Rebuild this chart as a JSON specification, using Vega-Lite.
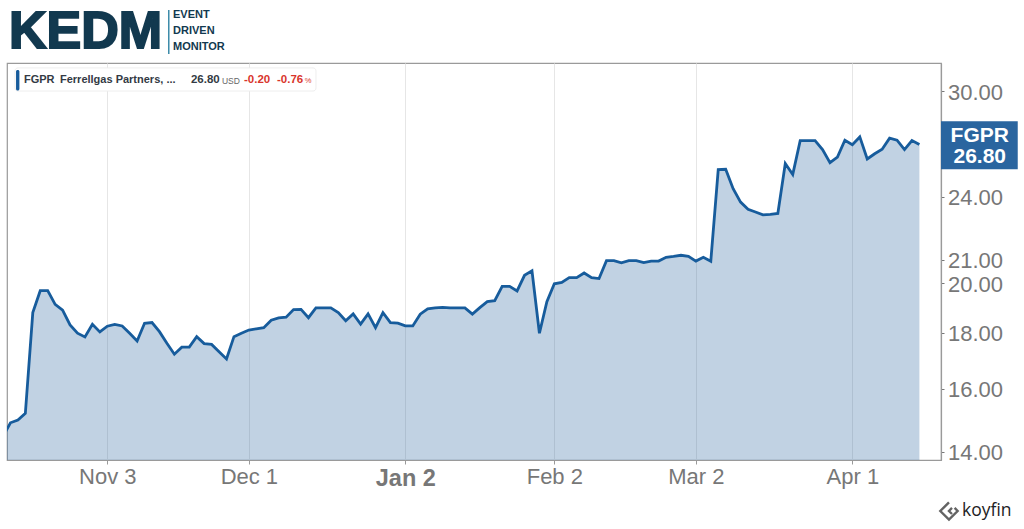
{
"$schema":"https://vega.github.io/schema/vega-lite/v6.json",
"width":934,"height":397,"autosize":"none",
"padding":{"left":7,"top":63,"right":83,"bottom":69},
"background":"white",
"config":{"view":{"stroke":"#9a9a9a","strokeWidth":1.2},"font":"Liberation Sans"},
"datasets":{
"prices":[
{"session":0,"price":14.47},{"session":1,"price":14.89},{"session":2,"price":14.98},{"session":3,"price":15.19},{"session":4,"price":18.79},{"session":5,"price":19.68},{"session":6,"price":19.68},{"session":7,"price":19.12},{"session":8,"price":18.89},{"session":9,"price":18.31},{"session":10,"price":17.99},{"session":11,"price":17.85},{"session":12,"price":18.33},{"session":13,"price":18.04},{"session":14,"price":18.26},{"session":15,"price":18.33},{"session":16,"price":18.27},{"session":17,"price":17.99},{"session":18,"price":17.70},{"session":19,"price":18.37},{"session":20,"price":18.40},{"session":21,"price":18.05},{"session":22,"price":17.61},{"session":23,"price":17.21},{"session":24,"price":17.47},{"session":25,"price":17.47},{"session":26,"price":17.86},{"session":27,"price":17.60},{"session":28,"price":17.57},{"session":29,"price":17.30},{"session":30,"price":17.04},{"session":31,"price":17.86},{"session":32,"price":17.99},{"session":33,"price":18.11},{"session":34,"price":18.16},{"session":35,"price":18.20},{"session":36,"price":18.49},{"session":37,"price":18.58},{"session":38,"price":18.61},{"session":39,"price":18.91},{"session":40,"price":18.92},{"session":41,"price":18.59},{"session":42,"price":18.98},{"session":43,"price":18.98},{"session":44,"price":18.98},{"session":45,"price":18.79},{"session":46,"price":18.47},{"session":47,"price":18.74},{"session":48,"price":18.34},{"session":49,"price":18.74},{"session":50,"price":18.20},{"session":51,"price":18.79},{"session":52,"price":18.40},{"session":53,"price":18.38},{"session":54,"price":18.27},{"session":55,"price":18.27},{"session":56,"price":18.73},{"session":57,"price":18.94},{"session":58,"price":18.98},{"session":59,"price":19.00},{"session":60,"price":18.98},{"session":61,"price":18.98},{"session":62,"price":18.98},{"session":63,"price":18.73},{"session":64,"price":18.99},{"session":65,"price":19.23},{"session":66,"price":19.27},{"session":67,"price":19.86},{"session":68,"price":19.86},{"session":69,"price":19.67},{"session":70,"price":20.33},{"session":71,"price":20.52},{"session":72,"price":17.99},{"session":73,"price":19.23},{"session":74,"price":19.97},{"session":75,"price":20.03},{"session":76,"price":20.23},{"session":77,"price":20.23},{"session":78,"price":20.43},{"session":79,"price":20.23},{"session":80,"price":20.19},{"session":81,"price":20.97},{"session":82,"price":20.97},{"session":83,"price":20.87},{"session":84,"price":20.97},{"session":85,"price":20.97},{"session":86,"price":20.88},{"session":87,"price":20.95},{"session":88,"price":20.95},{"session":89,"price":21.12},{"session":90,"price":21.16},{"session":91,"price":21.21},{"session":92,"price":21.16},{"session":93,"price":20.95},{"session":94,"price":21.12},{"session":95,"price":20.94},{"session":96,"price":25.41},{"session":97,"price":25.43},{"session":98,"price":24.41},{"session":99,"price":23.73},{"session":100,"price":23.37},{"session":101,"price":23.24},{"session":102,"price":23.10},{"session":103,"price":23.12},{"session":104,"price":23.17},{"session":105,"price":25.74},{"session":106,"price":25.15},{"session":107,"price":27.02},{"session":108,"price":27.02},{"session":109,"price":27.02},{"session":110,"price":26.51},{"session":111,"price":25.79},{"session":112,"price":26.10},{"session":113,"price":27.04},{"session":114,"price":26.79},{"session":115,"price":27.23},{"session":116,"price":25.99},{"session":117,"price":26.28},{"session":118,"price":26.53},{"session":119,"price":27.16},{"session":120,"price":27.04},{"session":121,"price":26.51},{"session":122,"price":27.02},{"session":123,"price":26.80}
]},
"layer":[
{"data":{"name":"prices"},
 "mark":{"type":"area","clip":true,"color":"#2a659f","opacity":0.29,"line":false},
 "encoding":{
  "x":{"field":"session","type":"quantitative","title":null,
   "scale":{"domain":[0.537,125.9],"nice":false,"zero":false},
   "axis":{"values":[14,33,54,74,93,114],"grid":true,"gridColor":"#e6e6e6","gridWidth":1,"domainColor":"#9a9a9a","domainWidth":1.2,"tickColor":"#9a9a9a","tickSize":4,"labelFontSize":{"condition":{"test":"datum.value==54","value":23.5},"value":22},"labelColor":"#777777","labelPadding":2,"labelFont":"Liberation Sans","title":null,
    "labelExpr":"datum.value==14?'Nov 3':datum.value==33?'Dec 1':datum.value==54?'Jan 2':datum.value==74?'Feb 2':datum.value==93?'Mar 2':'Apr 1'",
    "labelFontWeight":{"condition":{"test":"datum.value==54","value":"bold"},"value":"normal"}}},
  "y":{"field":"price","type":"quantitative","title":null,
   "scale":{"type":"log","domain":[13.765,31.83],"nice":false},
   "axis":{"orient":"right","values":[14,16,18,20,21,24,30],"format":".2f","grid":false,"domainColor":"#9a9a9a","domainWidth":1.2,"tickColor":"#777777","tickSize":3,"labelFontSize":22,"labelColor":"#777777","labelPadding":3.5,"labelOffset":1,"title":null}},
  "y2":{"datum":13.765}}},
{"data":{"name":"prices"},
 "mark":{"type":"line","clip":true,"color":"#175c9c","strokeWidth":2.8,"strokeJoin":"miter"},
 "encoding":{"x":{"field":"session","type":"quantitative"},"y":{"field":"price","type":"quantitative"}}},
{"data":{"values":[{"session":1.61,"session2":42.01,"price":31.5,"price2":30.0}]},
 "mark":{"type":"rect","fill":"white","stroke":"#eeeeee","strokeWidth":1,"cornerRadius":3},
 "encoding":{"x":{"field":"session","type":"quantitative"},"x2":{"field":"session2"},"y":{"field":"price","type":"quantitative"},"y2":{"field":"price2"}}},
{"data":{"values":[{"session":1.75,"session2":2.2,"price":31.37,"price2":30.03}]},
 "mark":{"type":"rect","fill":"#175c9c","cornerRadius":1.5},
 "encoding":{"x":{"field":"session","type":"quantitative"},"x2":{"field":"session2"},"y":{"field":"price","type":"quantitative"},"y2":{"field":"price2"}}},
{"data":{"values":[{"session":2.82,"price":30.7,"label":"FGPR"},{"session":7.65,"price":30.7,"label":"Ferrellgas Partners, ..."}]},
 "mark":{"type":"text","align":"left","baseline":"middle","fontSize":11,"fontWeight":"bold","color":"#333a44"},
 "encoding":{"x":{"field":"session","type":"quantitative"},"y":{"field":"price","type":"quantitative"},"text":{"field":"label"}}},
{"data":{"values":[{"session":25.23,"price":30.7,"label":"26.80"}]},
 "mark":{"type":"text","align":"left","baseline":"middle","fontSize":11.5,"fontWeight":"bold","color":"#333a44"},
 "encoding":{"x":{"field":"session","type":"quantitative"},"y":{"field":"price","type":"quantitative"},"text":{"field":"label"}}},
{"data":{"values":[{"session":29.39,"price":30.66,"label":"USD"}]},
 "mark":{"type":"text","align":"left","baseline":"middle","fontSize":8.5,"color":"#666666"},
 "encoding":{"x":{"field":"session","type":"quantitative"},"y":{"field":"price","type":"quantitative"},"text":{"field":"label"}}},
{"data":{"values":[{"session":32.35,"price":30.7,"label":"-0.20"},{"session":36.78,"price":30.7,"label":"-0.76"}]},
 "mark":{"type":"text","align":"left","baseline":"middle","fontSize":11.5,"fontWeight":"bold","color":"#d9352c"},
 "encoding":{"x":{"field":"session","type":"quantitative"},"y":{"field":"price","type":"quantitative"},"text":{"field":"label"}}},
{"data":{"values":[{"session":40.5,"price":30.66,"label":"%"}]},
 "mark":{"type":"text","align":"left","baseline":"middle","fontSize":7.5,"color":"#d9352c"},
 "encoding":{"x":{"field":"session","type":"quantitative"},"y":{"field":"price","type":"quantitative"},"text":{"field":"label"}}},
{"data":{"values":[{"session":125.9,"session2":136.2,"price":28.15,"price2":25.43}]},
 "mark":{"type":"rect","fill":"#2a659f"},
 "encoding":{"x":{"field":"session","type":"quantitative"},"x2":{"field":"session2"},"y":{"field":"price","type":"quantitative"},"y2":{"field":"price2"}}},
{"data":{"values":[{"session":131.1,"price":27.3,"label":"FGPR"},{"session":131.1,"price":26.12,"label":"26.80"}]},
 "mark":{"type":"text","align":"center","baseline":"middle","fontSize":21,"fontWeight":"bold","color":"white"},
 "encoding":{"x":{"field":"session","type":"quantitative"},"y":{"field":"price","type":"quantitative"},"text":{"field":"label"}}},
{"data":{"values":[{"session":0.81,"price":33.98,"label":"KEDM"}]},
 "mark":{"type":"text","align":"left","baseline":"middle","fontSize":52,"fontWeight":"bold","color":"#12394f","stroke":"#12394f","strokeWidth":2},
 "encoding":{"x":{"field":"session","type":"quantitative"},"y":{"field":"price","type":"quantitative"},"text":{"field":"label"}}},
{"data":{"values":[{"session":22.15,"session2":22.35,"price":35.6,"price2":32.44}]},
 "mark":{"type":"rect","fill":"#3a8aa8"},
 "encoding":{"x":{"field":"session","type":"quantitative"},"x2":{"field":"session2"},"y":{"field":"price","type":"quantitative"},"y2":{"field":"price2"}}},
{"data":{"values":[{"session":22.82,"price":35.22,"label":"EVENT"},{"session":22.82,"price":34.05,"label":"DRIVEN"},{"session":22.82,"price":32.93,"label":"MONITOR"}]},
 "mark":{"type":"text","align":"left","baseline":"middle","fontSize":11,"fontWeight":"bold","color":"#12394f"},
 "encoding":{"x":{"field":"session","type":"quantitative"},"y":{"field":"price","type":"quantitative"},"text":{"field":"label"}}},
{"data":{"values":[{"session":128.72,"price":12.36,"label":"koyfin"}]},
 "mark":{"type":"text","align":"left","baseline":"middle","font":"Open Sans","fontSize":17.5,"color":"#222222"},
 "encoding":{"x":{"field":"session","type":"quantitative"},"y":{"field":"price","type":"quantitative"},"text":{"field":"label"}}},
{"data":{"values":[{"session":126.97,"price":12.36}]},
 "mark":{"type":"point","filled":false,"size":300,"stroke":"#222222","strokeWidth":2.4,"shape":"M0,-1 L-1,0 L0,1 L1,0 L0.65,-0.35 M0.35,-0.35 L0,0 L0.35,0.35"},
 "encoding":{"x":{"field":"session","type":"quantitative"},"y":{"field":"price","type":"quantitative"}}}
]
}
